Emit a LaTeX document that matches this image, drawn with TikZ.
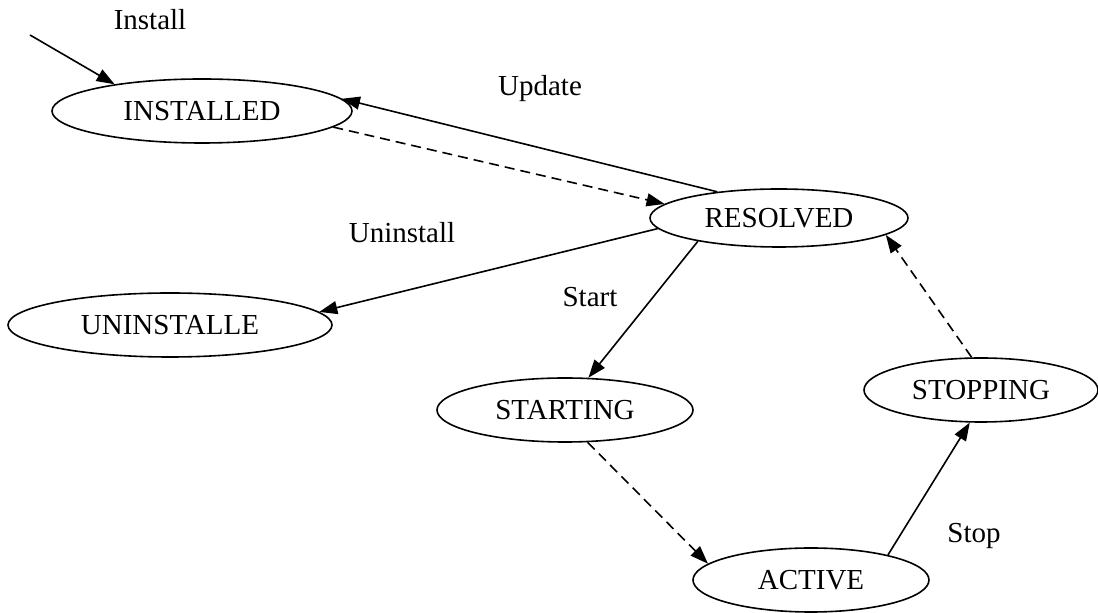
\documentclass[tikz,border=0pt]{standalone}
\usepackage{fontspec}
\setmainfont{Liberation Serif}
\usetikzlibrary{shapes.geometric,arrows.meta}

\begin{document}
\begin{tikzpicture}[x=0.5pt,y=-0.5pt,
    state/.style={draw,ellipse,line width=0.8pt,inner sep=0pt,minimum height=32pt,font=\fontsize{14.5}{17}\selectfont},
    lbl/.style={anchor=base,inner sep=0pt,font=\fontsize{14.5}{17}\selectfont},
    trans/.style={-{Triangle[length=9pt,width=6.5pt]},line width=0.8pt},
    back/.style={trans,dash pattern=on 5pt off 3pt}]
          \useasboundingbox (0,0) rectangle (1098,613);
          % states
          \node[state,minimum width=150pt] (installed) at (202,111){INSTALLED};
          \node[state,minimum width=129pt,minimum height=29pt] (resolved) at (779,218){RESOLVED};
          \node[state,minimum width=162pt] (uninstalled) at (170,325){UNINSTALLE};
          \node[state,minimum width=128pt] (starting) at (565,410){STARTING};
          \node[state,minimum width=118pt] (active) at (811,580){ACTIVE};
          \node[state,minimum width=117pt] (stopping) at (981,390){STOPPING};
          % labels
          \node[lbl] (installlbl) at (150,30){Install};
          \node[lbl] (updatelbl) at (540,96){Update};
          \node[lbl] (uninstalllbl) at (402,243){Uninstall};
          \node[lbl] (startlbl) at (590,307){Start};
          \node[lbl] (stoplbl) at (974,543){Stop};
          \coordinate (install) at (30,35);
          % transitions
          \draw[trans] (install) -- (installed.163);
          \draw[trans] (resolved.157) -- (installed.5);
          \draw[back] (installed.-7) -- (resolved.173);
          \draw[trans] (resolved.185) -- (uninstalled.5);
          \draw[trans] (resolved.196) -- (starting.54);
          \draw[back] (starting.-55) -- (active.171);
          \draw[trans] (active.18) -- (stopping.251);
          \draw[back] (stopping.106) -- (resolved.-9);
        \end{tikzpicture}
\end{document}
